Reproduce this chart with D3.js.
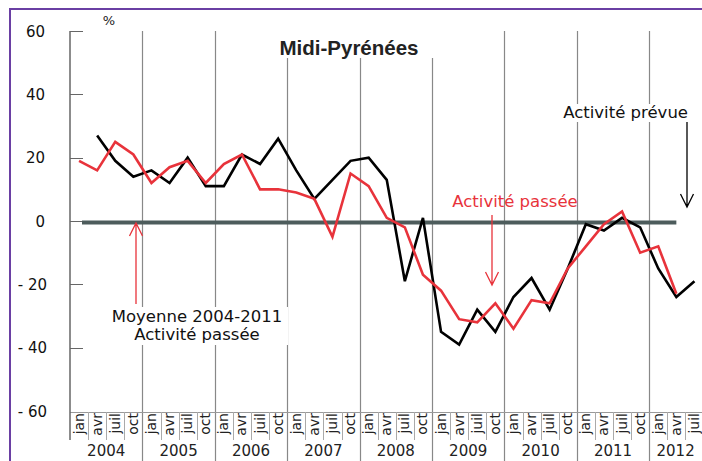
<!DOCTYPE html>
<html>
<head>
<meta charset="utf-8">
<script src="https://cdn.jsdelivr.net/npm/d3@7"></script>
<style>
  body { margin: 0; background: #fff; }
  text { font-family: "DejaVu Sans", sans-serif; }
</style>
</head>
<body>
<svg id="chart" width="702" height="461"></svg>
<script>
// quarterly data, jan 2004 .. juil 2012
var years = [2004, 2005, 2006, 2007, 2008, 2009, 2010, 2011, 2012];
var months = ["jan", "avr", "juil", "oct"];
var yTicks = [60, 40, 20, 0, -20, -40, -60];

// Activité passée (red)
var passee = [19, 16, 25, 21,  12, 17, 19, 12,  18, 21, 10, 10,  9, 7, -5, 15,
              11, 1, -2, -17,  -22, -31, -32, -26,  -34, -25, -26, -15,  -8, -1, 3, -10,
              -8, -23, null];
// Activité prévue (black)
var prevue = [null, 27, 19, 14,  16, 12, 20, 11,  11, 21, 18, 26,  16, 7, 13, 19,
              20, 13, -19, 1,  -35, -39, -28, -35,  -24, -18, -28, -15,  -1, -3, 1, -2,
              -15, -24, -19];

var svg = d3.select("#chart");
var red = "#e8333b";

var nQ = 35;
var plotLeft = 70, plotTop = 31, plotBottom = 411;
var x = d3.scaleLinear().domain([0, nQ]).range([plotLeft, plotLeft + nQ * 18.1]);
var y = d3.scaleLinear().domain([-60, 60]).range([plotBottom, plotTop]);

// frame
svg.append("rect").attr("x", 10).attr("y", 9).attr("width", 720).attr("height", 480)
  .attr("fill", "none").attr("stroke", "#6a3fa3").attr("stroke-width", 2);

// year grid lines
years.slice(1).forEach(function(yr, k) {
  var xx = Math.round(x((k + 1) * 4)) + 0.5;
  svg.append("line").attr("x1", xx).attr("x2", xx).attr("y1", plotTop).attr("y2", 461)
    .attr("stroke", "#888").attr("stroke-width", 1.2);
});

// quarter label cells
svg.append("line").attr("x1", plotLeft).attr("x2", 702).attr("y1", 412.5).attr("y2", 412.5)
  .attr("stroke", "#999");
d3.range(nQ).forEach(function(i) {
  if (i % 4 != 0) {
    var xx = Math.round(x(i)) + 0.5;
    svg.append("line").attr("x1", xx).attr("x2", xx).attr("y1", 412).attr("y2", 440)
      .attr("stroke", "#aaa").attr("stroke-width", 1);
  }
  var cx = x(i + 0.5) + 4.5;
  svg.append("text").attr("transform", "translate(" + cx + ",413) rotate(-90)")
    .attr("text-anchor", "end").attr("font-size", 14).attr("fill", "#222")
    .text(months[i % 4]);
});
years.forEach(function(yr, k) {
  var x0 = x(k * 4), x1 = Math.min(x(k * 4 + 4), 702);
  svg.append("text").attr("x", (x0 + x1) / 2).attr("y", 456)
    .attr("text-anchor", "middle").attr("font-size", 15).attr("fill", "#222").text(yr);
});

// y axis
svg.append("line").attr("x1", plotLeft).attr("x2", plotLeft).attr("y1", plotTop).attr("y2", 440)
  .attr("stroke", "#666").attr("stroke-width", 1.5);
yTicks.forEach(function(v) {
  if (v > -60) {
    svg.append("line").attr("x1", plotLeft).attr("x2", plotLeft + 13)
      .attr("y1", Math.round(y(v)) + 0.5).attr("y2", Math.round(y(v)) + 0.5)
      .attr("stroke", "#666").attr("stroke-width", 1);
  }
  svg.append("text").attr("x", v < 0 ? 47 : 45).attr("y", y(v) + 5.5)
    .attr("text-anchor", "end").attr("font-size", 15).attr("fill", "#111")
    .text(v < 0 ? "- " + (-v) : v);
});

// average line (zero)
svg.append("line").attr("x1", plotLeft + 12).attr("x2", x(33.5)).attr("y1", y(0) + 1.5).attr("y2", y(0) + 1.5)
  .attr("stroke", "#4d5c5c").attr("stroke-width", 4);

// white boxes behind texts
function whiteBox(x0, y0, w, h) {
  svg.append("rect").attr("x", x0).attr("y", y0).attr("width", w).attr("height", h).attr("fill", "#fff");
}
whiteBox(222, plotTop, 215, 27);
whiteBox(556, 104, 136, 18);
whiteBox(106, 307, 182, 38);

// title
svg.append("text").attr("x", 349).attr("y", 55).attr("text-anchor", "middle")
  .attr("font-weight", "bold").attr("font-size", 20.5).attr("fill", "#222")
  .style("font-family", "'Liberation Sans', Arial, sans-serif")
  .text("Midi-Pyrénées");
svg.append("text").attr("x", 109).attr("y", 25).attr("text-anchor", "middle")
  .attr("font-size", 13).attr("fill", "#222").text("%");

// series
var line = d3.line()
  .defined(function(d) { return d != null; })
  .x(function(d, i) { return x(i + 0.5); })
  .y(function(d) { return y(d); });

svg.append("path").datum(prevue).attr("d", line).attr("fill", "none")
  .attr("stroke", "#000").attr("stroke-width", 2.6).attr("stroke-linejoin", "miter");
svg.append("path").datum(passee).attr("d", line).attr("fill", "none")
  .attr("stroke", red).attr("stroke-width", 2.6).attr("stroke-linejoin", "miter");

// arrows
function arrow(xx, y0, y1, col) {
  var dir = y1 > y0 ? -1 : 1;
  svg.append("path")
    .attr("d", "M" + xx + "," + y0 + "L" + xx + "," + y1 +
      "M" + (xx - 6.5) + "," + (y1 + dir * 13) + "L" + xx + "," + y1 + "L" + (xx + 6.5) + "," + (y1 + dir * 13))
    .attr("fill", "none").attr("stroke", col).attr("stroke-width", 1.3);
}
arrow(136, 304, 223, red);
arrow(492, 215, 285, red);
arrow(687, 122, 207, "#000");

// annotations
svg.append("text").attr("x", 688).attr("y", 118).attr("text-anchor", "end")
  .attr("font-size", 16.5).attr("fill", "#111").text("Activité prévue");
svg.append("text").attr("x", 515).attr("y", 207).attr("text-anchor", "middle")
  .attr("font-size", 16.5).attr("fill", red).text("Activité passée");
svg.append("text").attr("x", 197).attr("y", 322).attr("text-anchor", "middle")
  .attr("font-size", 16.5).attr("fill", "#111").text("Moyenne 2004-2011");
svg.append("text").attr("x", 197).attr("y", 340).attr("text-anchor", "middle")
  .attr("font-size", 16.5).attr("fill", "#111").text("Activité passée");
</script>
</body>
</html>
